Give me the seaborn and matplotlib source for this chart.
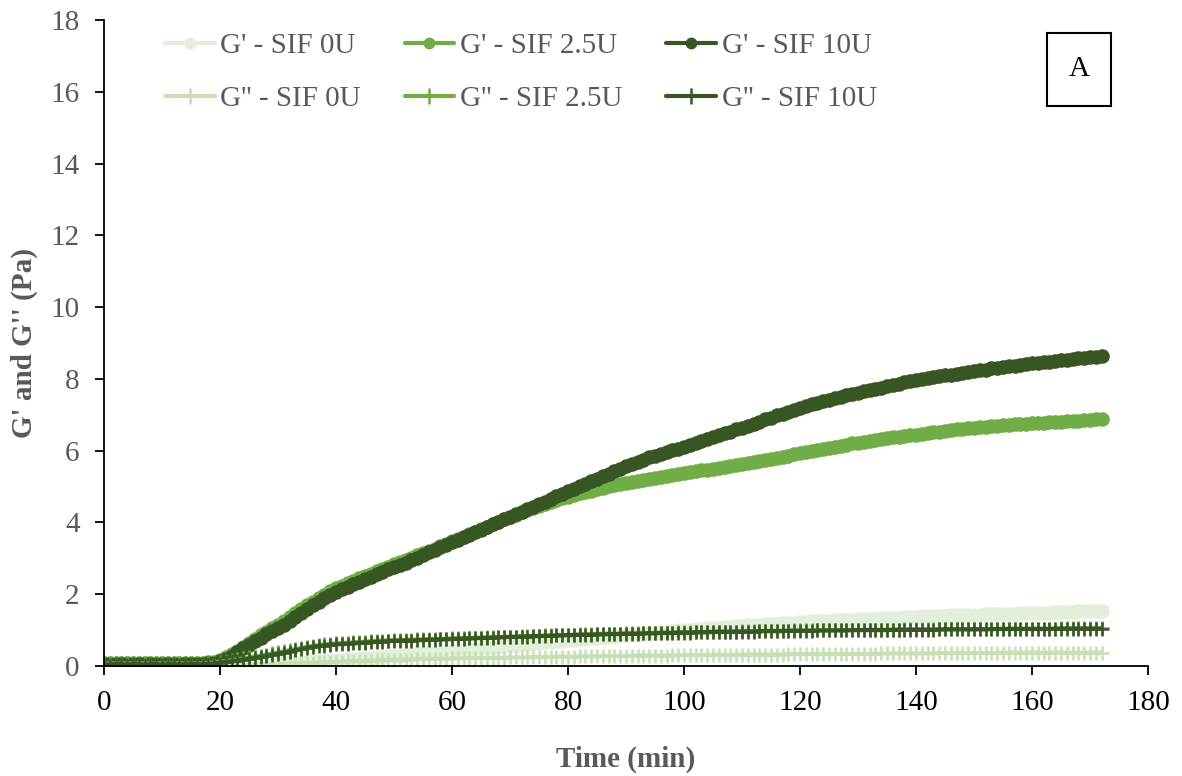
import numpy as np
import pandas as pd
import matplotlib
matplotlib.use("Agg")
import matplotlib.pyplot as plt
from matplotlib.patches import Rectangle
from matplotlib.lines import Line2D
import seaborn as sns

# Sampling times (min)
time_min = list(range(0, 173))

# Storage modulus G' (Pa)
g1_sif_0u = [
    0.02, 0.02, 0.01, 0.02, 0.02, 0.01, 0.02, 0.02, 0.01, 0.02,
    0.02, 0.01, 0.02, 0.02, 0.01, 0.02, 0.02, 0.02, 0.02, 0.02,
    0.02, 0.03, 0.03, 0.04, 0.04, 0.05, 0.05, 0.06, 0.07, 0.07,
    0.08, 0.09, 0.10, 0.10, 0.11, 0.12, 0.13, 0.14, 0.15, 0.16,
    0.17, 0.18, 0.19, 0.20, 0.21, 0.22, 0.23, 0.25, 0.26, 0.27,
    0.28, 0.29, 0.31, 0.32, 0.33, 0.35, 0.36, 0.37, 0.39, 0.40,
    0.42, 0.43, 0.45, 0.46, 0.48, 0.49, 0.51, 0.52, 0.54, 0.55,
    0.57, 0.58, 0.60, 0.61, 0.63, 0.64, 0.66, 0.67, 0.69, 0.70,
    0.72, 0.73, 0.75, 0.76, 0.78, 0.79, 0.80, 0.82, 0.83, 0.85,
    0.86, 0.88, 0.89, 0.90, 0.92, 0.93, 0.94, 0.96, 0.97, 0.99,
    1.00, 1.01, 1.02, 1.04, 1.05, 1.06, 1.07, 1.08, 1.09, 1.11,
    1.12, 1.13, 1.14, 1.15, 1.16, 1.17, 1.18, 1.19, 1.20, 1.21,
    1.22, 1.23, 1.24, 1.25, 1.25, 1.26, 1.27, 1.28, 1.29, 1.29,
    1.30, 1.31, 1.32, 1.32, 1.33, 1.34, 1.34, 1.35, 1.36, 1.36,
    1.37, 1.38, 1.38, 1.39, 1.39, 1.40, 1.41, 1.41, 1.42, 1.42,
    1.43, 1.43, 1.44, 1.44, 1.45, 1.45, 1.46, 1.46, 1.47, 1.47,
    1.48, 1.48, 1.49, 1.49, 1.50, 1.50, 1.51, 1.51, 1.52, 1.52,
    1.53, 1.54, 1.54,
]
g1_sif_25u = [
    0.08, 0.09, 0.08, 0.07, 0.08, 0.08, 0.07, 0.08, 0.09, 0.08,
    0.08, 0.07, 0.08, 0.08, 0.07, 0.08, 0.08, 0.09, 0.10, 0.12,
    0.17, 0.24, 0.33, 0.43, 0.54, 0.65, 0.75, 0.85, 0.95, 1.05,
    1.15, 1.25, 1.36, 1.47, 1.58, 1.69, 1.79, 1.89, 1.99, 2.08,
    2.16, 2.23, 2.30, 2.37, 2.44, 2.51, 2.57, 2.64, 2.70, 2.77,
    2.83, 2.89, 2.96, 3.02, 3.08, 3.14, 3.21, 3.27, 3.33, 3.40,
    3.47, 3.54, 3.60, 3.67, 3.74, 3.81, 3.88, 3.95, 4.02, 4.09,
    4.16, 4.22, 4.28, 4.34, 4.40, 4.46, 4.51, 4.57, 4.62, 4.67,
    4.72, 4.76, 4.81, 4.85, 4.89, 4.93, 4.97, 5.01, 5.04, 5.07,
    5.10, 5.13, 5.16, 5.19, 5.22, 5.25, 5.28, 5.30, 5.33, 5.35,
    5.38, 5.40, 5.42, 5.45, 5.47, 5.49, 5.52, 5.54, 5.57, 5.59,
    5.62, 5.65, 5.68, 5.71, 5.74, 5.77, 5.80, 5.83, 5.86, 5.90,
    5.93, 5.96, 5.99, 6.02, 6.05, 6.08, 6.11, 6.14, 6.17, 6.20,
    6.22, 6.25, 6.27, 6.30, 6.32, 6.35, 6.37, 6.39, 6.41, 6.43,
    6.45, 6.47, 6.49, 6.51, 6.53, 6.55, 6.57, 6.59, 6.61, 6.62,
    6.64, 6.65, 6.67, 6.68, 6.70, 6.71, 6.72, 6.73, 6.74, 6.75,
    6.76, 6.77, 6.78, 6.79, 6.80, 6.81, 6.82, 6.83, 6.84, 6.85,
    6.86, 6.87, 6.88,
]
g1_sif_10u = [
    0.05, 0.05, 0.04, 0.05, 0.05, 0.04, 0.05, 0.05, 0.05, 0.04,
    0.05, 0.05, 0.04, 0.05, 0.05, 0.05, 0.06, 0.06, 0.07, 0.09,
    0.14, 0.20, 0.29, 0.39, 0.49, 0.59, 0.69, 0.79, 0.88, 0.97,
    1.06, 1.15, 1.25, 1.36, 1.47, 1.58, 1.69, 1.79, 1.89, 1.98,
    2.07, 2.14, 2.21, 2.28, 2.35, 2.42, 2.49, 2.56, 2.62, 2.69,
    2.75, 2.81, 2.88, 2.95, 3.02, 3.09, 3.17, 3.24, 3.31, 3.38,
    3.45, 3.52, 3.59, 3.66, 3.73, 3.80, 3.88, 3.95, 4.02, 4.09,
    4.16, 4.23, 4.30, 4.37, 4.44, 4.51, 4.58, 4.65, 4.73, 4.80,
    4.87, 4.94, 5.01, 5.08, 5.15, 5.22, 5.29, 5.36, 5.43, 5.50,
    5.57, 5.63, 5.69, 5.75, 5.81, 5.86, 5.91, 5.96, 6.01, 6.06,
    6.11, 6.16, 6.21, 6.27, 6.32, 6.38, 6.43, 6.48, 6.53, 6.59,
    6.64, 6.70, 6.75, 6.81, 6.87, 6.92, 6.98, 7.03, 7.09, 7.14,
    7.20, 7.24, 7.29, 7.33, 7.38, 7.42, 7.46, 7.50, 7.54, 7.58,
    7.62, 7.66, 7.69, 7.73, 7.76, 7.80, 7.83, 7.87, 7.90, 7.94,
    7.97, 8.00, 8.02, 8.05, 8.07, 8.10, 8.12, 8.15, 8.17, 8.20,
    8.22, 8.24, 8.26, 8.29, 8.31, 8.33, 8.35, 8.37, 8.39, 8.41,
    8.43, 8.45, 8.47, 8.48, 8.50, 8.52, 8.54, 8.55, 8.57, 8.59,
    8.60, 8.62, 8.63,
]

# Loss modulus G'' (Pa)
g2_sif_0u = [
    0.02, 0.02, 0.01, 0.02, 0.02, 0.02, 0.01, 0.02, 0.02, 0.02,
    0.01, 0.02, 0.02, 0.02, 0.01, 0.02, 0.02, 0.02, 0.02, 0.02,
    0.02, 0.02, 0.02, 0.02, 0.03, 0.03, 0.03, 0.04, 0.04, 0.05,
    0.05, 0.06, 0.06, 0.07, 0.08, 0.08, 0.09, 0.10, 0.10, 0.11,
    0.12, 0.12, 0.13, 0.14, 0.14, 0.15, 0.15, 0.16, 0.16, 0.17,
    0.17, 0.18, 0.18, 0.18, 0.19, 0.19, 0.19, 0.20, 0.20, 0.20,
    0.21, 0.21, 0.21, 0.22, 0.22, 0.22, 0.22, 0.23, 0.23, 0.23,
    0.24, 0.24, 0.24, 0.24, 0.25, 0.25, 0.25, 0.25, 0.26, 0.26,
    0.26, 0.26, 0.27, 0.27, 0.27, 0.27, 0.27, 0.28, 0.28, 0.28,
    0.28, 0.28, 0.29, 0.29, 0.29, 0.29, 0.29, 0.29, 0.30, 0.30,
    0.30, 0.30, 0.30, 0.30, 0.31, 0.31, 0.31, 0.31, 0.31, 0.31,
    0.31, 0.32, 0.32, 0.32, 0.32, 0.32, 0.32, 0.32, 0.33, 0.33,
    0.33, 0.33, 0.33, 0.33, 0.33, 0.33, 0.34, 0.34, 0.34, 0.34,
    0.34, 0.34, 0.34, 0.34, 0.35, 0.35, 0.35, 0.35, 0.35, 0.35,
    0.35, 0.35, 0.35, 0.35, 0.36, 0.36, 0.36, 0.36, 0.36, 0.36,
    0.36, 0.36, 0.36, 0.36, 0.36, 0.37, 0.37, 0.37, 0.37, 0.37,
    0.37, 0.37, 0.37, 0.37, 0.37, 0.37, 0.37, 0.37, 0.37, 0.37,
    0.37, 0.37, 0.37,
]
g2_sif_25u = [
    0.07, 0.08, 0.07, 0.07, 0.08, 0.07, 0.07, 0.08, 0.07, 0.07,
    0.08, 0.07, 0.07, 0.08, 0.07, 0.07, 0.08, 0.08, 0.09, 0.10,
    0.12, 0.14, 0.16, 0.19, 0.21, 0.24, 0.27, 0.29, 0.32, 0.35,
    0.38, 0.41, 0.44, 0.47, 0.50, 0.53, 0.56, 0.58, 0.60, 0.62,
    0.63, 0.64, 0.65, 0.66, 0.67, 0.68, 0.69, 0.70, 0.71, 0.71,
    0.72, 0.72, 0.73, 0.73, 0.74, 0.74, 0.75, 0.75, 0.76, 0.76,
    0.77, 0.77, 0.78, 0.78, 0.79, 0.79, 0.80, 0.80, 0.81, 0.81,
    0.82, 0.82, 0.83, 0.83, 0.84, 0.84, 0.85, 0.85, 0.86, 0.86,
    0.87, 0.87, 0.88, 0.88, 0.88, 0.89, 0.89, 0.90, 0.90, 0.90,
    0.91, 0.91, 0.91, 0.92, 0.92, 0.92, 0.93, 0.93, 0.93, 0.94,
    0.94, 0.94, 0.94, 0.95, 0.95, 0.95, 0.96, 0.96, 0.96, 0.96,
    0.97, 0.97, 0.97, 0.97, 0.98, 0.98, 0.98, 0.98, 0.98, 0.99,
    0.99, 0.99, 0.99, 0.99, 0.99, 1.00, 1.00, 1.00, 1.00, 1.00,
    1.00, 1.01, 1.01, 1.01, 1.01, 1.01, 1.01, 1.01, 1.02, 1.02,
    1.02, 1.02, 1.02, 1.02, 1.02, 1.02, 1.03, 1.03, 1.03, 1.03,
    1.03, 1.03, 1.03, 1.03, 1.03, 1.04, 1.04, 1.04, 1.04, 1.04,
    1.04, 1.04, 1.04, 1.04, 1.04, 1.05, 1.05, 1.05, 1.05, 1.05,
    1.05, 1.05, 1.05,
]
g2_sif_10u = [
    0.05, 0.04, 0.05, 0.05, 0.04, 0.05, 0.05, 0.04, 0.05, 0.05,
    0.04, 0.05, 0.05, 0.04, 0.05, 0.05, 0.05, 0.05, 0.06, 0.07,
    0.09, 0.11, 0.13, 0.15, 0.18, 0.20, 0.23, 0.25, 0.28, 0.31,
    0.34, 0.37, 0.40, 0.44, 0.47, 0.50, 0.53, 0.55, 0.57, 0.59,
    0.60, 0.61, 0.62, 0.63, 0.64, 0.65, 0.66, 0.67, 0.68, 0.69,
    0.70, 0.70, 0.71, 0.71, 0.72, 0.72, 0.73, 0.73, 0.74, 0.74,
    0.75, 0.76, 0.76, 0.77, 0.77, 0.78, 0.78, 0.79, 0.80, 0.80,
    0.81, 0.81, 0.82, 0.82, 0.83, 0.83, 0.84, 0.84, 0.85, 0.85,
    0.86, 0.86, 0.87, 0.87, 0.87, 0.88, 0.88, 0.89, 0.89, 0.89,
    0.90, 0.90, 0.90, 0.91, 0.91, 0.91, 0.92, 0.92, 0.92, 0.93,
    0.93, 0.93, 0.94, 0.94, 0.94, 0.95, 0.95, 0.95, 0.95, 0.96,
    0.96, 0.96, 0.96, 0.97, 0.97, 0.97, 0.97, 0.97, 0.98, 0.98,
    0.98, 0.98, 0.98, 0.99, 0.99, 0.99, 0.99, 0.99, 0.99, 1.00,
    1.00, 1.00, 1.00, 1.00, 1.00, 1.00, 1.01, 1.01, 1.01, 1.01,
    1.01, 1.01, 1.01, 1.01, 1.02, 1.02, 1.02, 1.02, 1.02, 1.02,
    1.02, 1.02, 1.02, 1.03, 1.03, 1.03, 1.03, 1.03, 1.03, 1.03,
    1.03, 1.03, 1.03, 1.03, 1.04, 1.04, 1.04, 1.04, 1.04, 1.04,
    1.04, 1.04, 1.04,
]

series_labels = ["G' - SIF 0U", "G' - SIF 2.5U", "G' - SIF 10U",
                 "G'' - SIF 0U", "G'' - SIF 2.5U", "G'' - SIF 10U"]
series_values = [g1_sif_0u, g1_sif_25u, g1_sif_10u,
                 g2_sif_0u, g2_sif_25u, g2_sif_10u]
series_colors = ["#E2EFDA", "#70AD47", "#375623",
                 "#C5E0B4", "#70AD47", "#375623"]

x_ticks = [0, 20, 40, 60, 80, 100, 120, 140, 160, 180]
y_ticks = [0, 2, 4, 6, 8, 10, 12, 14, 16, 18]

sns.set_theme(style="white")
plt.rcParams["font.family"] = ["Liberation Serif", "DejaVu Serif"]

FS = 21
fig = plt.figure(figsize=(11.82, 7.76), dpi=100)
ax = fig.add_axes([104 / 1182, 1 - 666 / 776, (1148 - 104) / 1182, (666 - 20) / 776])

handles = {}
for label, vals, color in zip(series_labels, series_values, series_colors):
    df = pd.DataFrame({"t": time_min, "v": vals})
    is_storage = label.startswith("G' ")
    if is_storage:
        style = dict(marker="o", markersize=10.5, markeredgewidth=0,
                     linewidth=3.4)
        legend_ms = 8.5
    else:
        style = dict(marker="+", markersize=9.5, markeredgewidth=1.8,
                     linewidth=3.0)
        legend_ms = 11
    sns.lineplot(data=df, x="t", y="v", ax=ax, color=color,
                 markeredgecolor=color, markerfacecolor=color,
                 estimator=None, sort=False, legend=False, **style)
    hstyle = dict(style)
    hstyle["markersize"] = legend_ms
    hstyle["linewidth"] = 3.0
    handles[label] = Line2D([], [], color=color, markerfacecolor=color,
                            markeredgecolor=color, **hstyle)

ax.set_xlim(0, 180)
ax.set_ylim(0, 18)
ax.set_xticks(x_ticks)
ax.set_yticks(y_ticks)
ax.set_xticklabels([str(v) for v in x_ticks])
ax.set_yticklabels([str(v) for v in y_ticks])

for side in ["top", "right"]:
    ax.spines[side].set_visible(False)
for side in ["left", "bottom"]:
    ax.spines[side].set_color("black")
    ax.spines[side].set_linewidth(1.3)

ax.tick_params(axis="both", which="major", direction="out", length=6.5,
               width=1.3, color="black", labelsize=FS,
               bottom=True, left=True, pad=11)
ax.tick_params(axis="x", labelcolor="black")
ax.tick_params(axis="y", labelcolor="#595959")

ax.set_xlabel("Time (min)", fontsize=FS, fontweight="bold",
              color="#595959", labelpad=21)
ax.set_ylabel("G' and G'' (Pa)", fontsize=FS, fontweight="bold",
              color="#595959", labelpad=9)

order = ["G' - SIF 0U", "G'' - SIF 0U", "G' - SIF 2.5U",
         "G'' - SIF 2.5U", "G' - SIF 10U", "G'' - SIF 10U"]
leg = ax.legend([handles[k] for k in order], order, ncol=3,
                loc="upper left", bbox_to_anchor=(165 / 1182, 1 - 33 / 776),
                bbox_transform=fig.transFigure, frameon=False,
                fontsize=FS, labelcolor="#595959", handlelength=1.7,
                handletextpad=0.2, columnspacing=1.5, labelspacing=0.9,
                borderpad=0, borderaxespad=0, numpoints=1)

# Panel tag box
box_x0, box_x1 = (1047 - 104) / 1044, (1111 - 104) / 1044
box_y0, box_y1 = (666 - 106) / 646, (666 - 33) / 646
ax.add_patch(Rectangle((box_x0, box_y0), box_x1 - box_x0, box_y1 - box_y0,
                       transform=ax.transAxes, fill=False,
                       edgecolor="black", linewidth=1.5, clip_on=False))
ax.text((box_x0 + box_x1) / 2, (box_y0 + box_y1) / 2, "A",
        transform=ax.transAxes, ha="center", va="center",
        fontsize=21, color="black")

fig.savefig("out.png", dpi=100)
